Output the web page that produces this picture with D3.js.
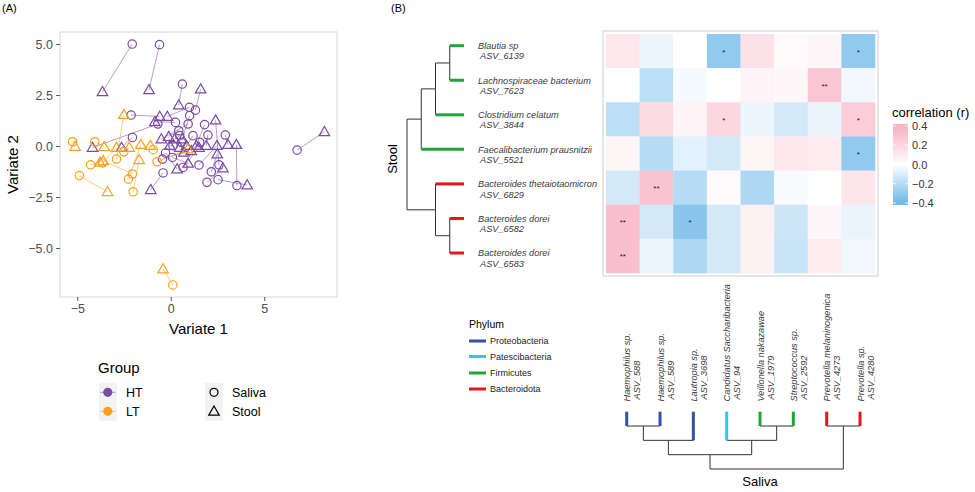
<!DOCTYPE html>
<html>
<head>
<meta charset="utf-8">
<script src="https://cdn.jsdelivr.net/npm/d3@7"></script>
<style>
  body { margin: 0; background: #fff; }
  svg { font-family: "Liberation Sans", Arial, Helvetica, sans-serif; }
</style>
</head>
<body>
<svg id="chart" width="975" height="492"></svg>
<script>
// ---- panel A data: sample scores, one saliva and one stool point per sample
const htSaliva = [[-2.06,5.0],[-0.60,4.97],[0.62,3.04],[1.32,1.76],[-2.12,1.52],[-0.69,1.08],[6.76,-0.20],[2.58,-0.92],[3.54,-1.94],[2.53,-1.65],[-0.41,-1.32],[-2.05,0.42],[1.0,1.90],[0.25,1.16],[0.93,1.08],[0.43,0.75],[1.19,0.51],[1.81,1.05],[1.99,0.54],[2.92,0.54],[0.48,0.51],[0.57,0.18],[0.12,0.02],[-0.28,-0.34],[0.09,-0.56],[0.66,-1.05],[1.51,-0.93],[1.94,-1.78],[2.17,-1.26],[1.01,1.49],[-0.44,-0.64],[1.55,0.18]];
const htStool = [[-3.65,2.66],[-1.16,2.76],[0.43,2.01],[1.60,2.79],[-0.59,1.45],[-4.18,-0.07],[8.22,0.70],[2.40,1.27],[3.51,0.07],[4.09,-1.91],[-1.07,-2.14],[-2.63,-0.07],[-0.18,1.45],[-0.85,1.19],[-0.50,0.34],[-0.11,0.46],[0.84,0.02],[1.37,0.02],[1.90,0.02],[3.06,0.07],[0.21,0.34],[0.48,-0.07],[-0.05,0.02],[0.34,-1.13],[0.93,-0.85],[1.51,-0.07],[2.47,0.02],[2.79,-1.08],[2.49,-0.39],[0.62,0.34],[0.71,-0.31],[1.10,-0.23]];
const ltSaliva = [[0.11,-6.81],[-4.89,-1.45],[-2.90,-0.64],[-2.01,-2.24],[-5.25,0.21],[-4.06,0.21],[-4.29,-0.92],[-2.05,-1.37],[-2.51,-0.28],[-0.94,-0.18],[-0.73,-0.77],[-2.26,-1.62],[-3.65,-0.83]];
const ltStool = [[-0.41,-6.03],[-3.38,-2.24],[-2.51,1.54],[-1.69,-0.67],[-5.12,-0.02],[-3.56,-0.03],[-3.79,-0.80],[-3.61,-0.72],[-2.22,-0.07],[-1.09,0.02],[0.91,-0.15],[-1.60,0.07],[-2.90,-0.07]];
const xTicks = [-5, 0, 5];
const yTicks = [-5, -2.5, 0, 2.5, 5];
const groups = ['HT', 'LT'];
const sampleTypes = ['Saliva', 'Stool'];

// ---- panel B data
const stoolTaxa = [['Blautia sp', 'ASV_6139'], ['Lachnospiraceae bacterium', 'ASV_7623'], ['Clostridium celatum', 'ASV_3844'],
  ['Faecalibacterium prausnitzii', 'ASV_5521'], ['Bacteroides thetaiotaomicron', 'ASV_6829'], ['Bacteroides dorei', 'ASV_6582'], ['Bacteroides dorei', 'ASV_6583']];
const stoolPhylum = ['Firmicutes', 'Firmicutes', 'Firmicutes', 'Firmicutes', 'Bacteroidota', 'Bacteroidota', 'Bacteroidota'];
const salivaTaxa = [['Haemophilus sp.', 'ASV_588'], ['Haemophilus sp.', 'ASV_589'], ['Lautropia sp.', 'ASV_3698'], ['Candidatus Saccharibacteria', 'ASV_94'],
  ['Veillonella nakazawae', 'ASV_1979'], ['Streptococcus sp.', 'ASV_2592'], ['Prevotella melaninogenica', 'ASV_4273'], ['Prevotella sp.', 'ASV_4280']];
const salivaPhylum = ['Proteobacteria', 'Proteobacteria', 'Proteobacteria', 'Patescibacteria', 'Firmicutes', 'Firmicutes', 'Bacteroidota', 'Bacteroidota'];
const corr = [
  [0.12, -0.05, 0.00, -0.30, 0.15, 0.03, 0.04, -0.30],
  [0.00, -0.18, -0.03, 0.00, 0.06, 0.04, 0.28, -0.04],
  [-0.18, 0.18, 0.06, 0.20, -0.05, -0.12, -0.06, 0.25],
  [0.05, -0.20, -0.08, -0.12, 0.05, 0.12, 0.10, -0.30],
  [-0.12, 0.30, -0.20, 0.03, -0.22, -0.02, 0.00, 0.13],
  [0.32, -0.12, -0.32, -0.12, 0.07, -0.14, 0.04, -0.06],
  [0.32, -0.05, -0.22, -0.12, 0.07, -0.15, 0.10, -0.04]
];
const signif = [
  ['', '', '', '*', '', '', '', '*'],
  ['', '', '', '', '', '', '**', ''],
  ['', '', '', '*', '', '', '', '*'],
  ['', '', '', '', '', '', '', '*'],
  ['', '**', '', '', '', '', '', ''],
  ['**', '', '*', '', '', '', '', ''],
  ['**', '', '', '', '', '', '', '']
];
// dendrograms: merge height per internal node, leaves are indices
const stoolTree = { h: 4, children: [
  { h: 3, children: [{ h: 2, children: [{ h: 1, children: [0, 1] }, 2] }, 3] },
  { h: 2, children: [4, { h: 1, children: [5, 6] }] }
]};
const salivaTree = { h: 4, children: [
  { h: 3, children: [{ h: 2, children: [{ h: 1, children: [0, 1] }, 2] }, { h: 2, children: [3, { h: 1, children: [4, 5] }] }] },
  { h: 1, children: [6, 7] }
]};
const phyla = ['Proteobacteria', 'Patescibacteria', 'Firmicutes', 'Bacteroidota'];
const legendTicks = [0.4, 0.2, 0, -0.2, -0.4];

const svg = d3.select('#chart');
const groupColor = d3.scaleOrdinal().domain(groups).range(['#7B4CA4', '#F7A21C']);
const phylumColor = d3.scaleOrdinal().domain(phyla).range(['#3451A3', '#35C2F2', '#1FA637', '#E8141C']);
const fmt1 = d3.format('.1f');

svg.append('text').attr('x', 2).attr('y', 12).attr('font-size', 11).text('(A)');
svg.append('text').attr('x', 391).attr('y', 12).attr('font-size', 11).text('(B)');

// ================= panel A =================
const allPts = htSaliva.concat(htStool, ltSaliva, ltStool);
function expand(ext) {
  const pad = (ext[1] - ext[0]) * 0.05;
  return [ext[0] - pad, ext[1] + pad];
}
const x = d3.scaleLinear().domain(expand(d3.extent(allPts, d => d[0]))).range([60, 337]);
const y = d3.scaleLinear().domain(expand(d3.extent(allPts, d => d[1]))).range([297, 32]);

const pA = svg.append('g');
pA.append('rect').attr('x', 60).attr('y', 32).attr('width', 277).attr('height', 265)
  .attr('fill', 'white').attr('stroke', '#d6d6d6').attr('stroke-width', 1);

const xAxis = pA.append('g').attr('transform', 'translate(0,297)')
  .call(d3.axisBottom(x).tickValues(xTicks).tickSize(4).tickPadding(3).tickFormat(d3.format('d')));
const yAxis = pA.append('g').attr('transform', 'translate(60,0)')
  .call(d3.axisLeft(y).tickValues(yTicks).tickSize(4).tickPadding(3).tickFormat(fmt1));
[xAxis, yAxis].forEach(ax => {
  ax.select('.domain').remove();
  ax.selectAll('line').attr('stroke', '#555');
  ax.selectAll('text').attr('font-size', 12.5).attr('fill', '#4d4d4d')
    .attr('font-family', '"Liberation Sans", Arial, sans-serif');
});

pA.append('text').attr('x', 198.5).attr('y', 334).attr('text-anchor', 'middle').attr('font-size', 15).text('Variate 1');
pA.append('text').attr('transform', 'translate(18,164.5) rotate(-90)').attr('text-anchor', 'middle')
  .attr('font-size', 15).text('Variate 2');

const sets = [
  { g: 'HT', sal: htSaliva, st: htStool },
  { g: 'LT', sal: ltSaliva, st: ltStool }
];
const triangle = d3.symbol().type(d3.symbolTriangle).size(48);

sets.forEach(s => {
  pA.append('g').selectAll('line').data(s.sal).join('line')
    .attr('x1', d => x(d[0])).attr('y1', d => y(d[1]))
    .attr('x2', (d, i) => x(s.st[i][0])).attr('y2', (d, i) => y(s.st[i][1]))
    .attr('stroke', groupColor(s.g)).attr('stroke-opacity', 0.55).attr('stroke-width', 1);
});
sets.forEach(s => {
  pA.append('g').selectAll('circle').data(s.sal).join('circle')
    .attr('cx', d => x(d[0])).attr('cy', d => y(d[1])).attr('r', 4.2)
    .attr('fill', 'none').attr('stroke', groupColor(s.g)).attr('stroke-width', 1.2);
  pA.append('g').selectAll('path').data(s.st).join('path')
    .attr('transform', d => `translate(${x(d[0])},${y(d[1]) + 0.8})`).attr('d', triangle)
    .attr('fill', 'none').attr('stroke', groupColor(s.g)).attr('stroke-width', 1.2);
});

// legends for panel A
const legA = svg.append('g');
legA.append('text').attr('x', 98).attr('y', 373).attr('font-size', 15).text('Group');
groups.forEach((g, i) => {
  const cy = 392.3 + i * 19;
  legA.append('rect').attr('x', 99).attr('y', cy - 9.5).attr('width', 17.7).attr('height', 19).attr('fill', '#f2f2f2');
  legA.append('line').attr('x1', 100).attr('x2', 115.7).attr('y1', cy).attr('y2', cy)
    .attr('stroke', groupColor(g)).attr('stroke-opacity', 0.55);
  legA.append('circle').attr('cx', 107.8).attr('cy', cy).attr('r', 4.6).attr('fill', groupColor(g));
  legA.append('text').attr('x', 126).attr('y', cy + 4.5).attr('font-size', 12.5).text(g);
});
sampleTypes.forEach((t, i) => {
  const cy = 392.3 + i * 19;
  legA.append('rect').attr('x', 205).attr('y', cy - 9.5).attr('width', 18).attr('height', 19).attr('fill', '#f2f2f2');
  if (i === 0) {
    legA.append('circle').attr('cx', 214).attr('cy', cy).attr('r', 4).attr('fill', 'none').attr('stroke', '#000').attr('stroke-width', 1.2);
  } else {
    legA.append('path').attr('transform', `translate(214,${cy + 0.8})`).attr('d', triangle)
      .attr('fill', 'none').attr('stroke', '#000').attr('stroke-width', 1.2);
  }
  legA.append('text').attr('x', 232).attr('y', cy + 4.5).attr('font-size', 12.5).text(t);
});

// ================= panel B =================
const pB = svg.append('g');
const colBand = d3.scaleBand().domain(d3.range(salivaTaxa.length)).range([606, 875]);
const rowBand = d3.scaleBand().domain(d3.range(stoolTaxa.length)).range([34, 273]);
const fill = d3.scaleLinear().domain([-0.4, 0, 0.4]).range(['#6CB7E9', '#ffffff', '#F7AFC2']).clamp(true);

pB.append('rect').attr('x', 603).attr('y', 31).attr('width', 275).attr('height', 245)
  .attr('fill', 'none').attr('stroke', '#dedede').attr('stroke-width', 1.5);

const cells = [];
corr.forEach((row, r) => row.forEach((v, c) => cells.push({ r, c, v, s: signif[r][c] })));
pB.append('g').selectAll('rect').data(cells).join('rect')
  .attr('x', d => colBand(d.c)).attr('y', d => rowBand(d.r))
  .attr('width', colBand.bandwidth() + 0.3).attr('height', rowBand.bandwidth() + 0.3)
  .attr('fill', d => fill(d.v));
pB.append('g').selectAll('text').data(cells.filter(d => d.s)).join('text')
  .attr('x', d => colBand(d.c) + colBand.bandwidth() / 2)
  .attr('y', d => rowBand(d.r) + rowBand.bandwidth() / 2 + 3.5)
  .attr('text-anchor', 'middle').attr('font-size', 8).attr('fill', '#222').text(d => d.s);

// colour legend
const legB = svg.append('g');
legB.append('text').attr('x', 892).attr('y', 117).attr('font-size', 13).text('correlation (r)');
const ly = d3.scaleLinear().domain([0.42, -0.42]).range([124, 205]);
const grad = svg.append('defs').append('linearGradient').attr('id', 'cgrad')
  .attr('x1', 0).attr('x2', 0).attr('y1', 0).attr('y2', 1);
d3.range(0, 1.001, 0.1).forEach(t => {
  const v = 0.42 - t * 0.84;
  grad.append('stop').attr('offset', t).attr('stop-color', fill(v));
});
legB.append('rect').attr('x', 893).attr('y', ly(0.42)).attr('width', 15).attr('height', ly(-0.42) - ly(0.42))
  .attr('fill', 'url(#cgrad)');
legendTicks.forEach(v => {
  legB.append('line').attr('x1', 893).attr('x2', 896).attr('y1', ly(v)).attr('y2', ly(v)).attr('stroke', '#fff').attr('stroke-width', 0.8);
  legB.append('line').attr('x1', 905).attr('x2', 908).attr('y1', ly(v)).attr('y2', ly(v)).attr('stroke', '#fff').attr('stroke-width', 0.8);
  legB.append('text').attr('x', 912).attr('y', ly(v) + 4).attr('font-size', 11).attr('fill', '#333').text(fmt1(v));
});

// stool dendrogram (left of heatmap)
const stoolLeafY = d3.scalePoint().domain(d3.range(stoolTaxa.length)).range([45.7, 253]);
const stoolH = d3.scaleLinear().domain([0, 4]).range([464, 407]);
const dendroLines = pB.append('g').attr('fill', 'none');

function layout(node, pos) {
  if (typeof node === 'number') return { pos: pos(node), h: 0, leaf: node };
  const kids = node.children.map(k => layout(k, pos));
  return { pos: d3.mean(kids, k => k.pos), h: node.h, kids };
}
function drawTree(node, isRow, hScale, phylum) {
  if (!node.kids) return;
  const hp = hScale(node.h);
  const pp = node.kids.map(k => k.pos);
  // connector across children
  if (isRow) dendroLines.append('line').attr('x1', hp).attr('x2', hp).attr('y1', d3.min(pp)).attr('y2', d3.max(pp)).attr('stroke', '#333');
  else dendroLines.append('line').attr('y1', hp).attr('y2', hp).attr('x1', d3.min(pp)).attr('x2', d3.max(pp)).attr('stroke', '#333');
  node.kids.forEach(k => {
    const isLeaf = k.leaf !== undefined;
    const col = isLeaf ? phylumColor(phylum[k.leaf]) : '#333';
    const w = isLeaf ? 3 : 1;
    if (isRow) dendroLines.append('line').attr('x1', hScale(k.h)).attr('x2', hp).attr('y1', k.pos).attr('y2', k.pos).attr('stroke', col).attr('stroke-width', w);
    else dendroLines.append('line').attr('y1', hScale(k.h)).attr('y2', hp).attr('x1', k.pos).attr('x2', k.pos).attr('stroke', col).attr('stroke-width', w);
    drawTree(k, isRow, hScale, phylum);
  });
}
const stoolRoot = layout(stoolTree, stoolLeafY);
drawTree(stoolRoot, true, stoolH, stoolPhylum);

stoolTaxa.forEach((t, i) => {
  const yy = stoolLeafY(i);
  const tx = pB.append('text').attr('font-size', 9.2).attr('font-style', 'italic').attr('fill', '#3a3a3a');
  tx.append('tspan').attr('x', 478).attr('y', yy + 3.4).text(t[0]);
  tx.append('tspan').attr('x', 480).attr('y', yy + 13.6).text(t[1]);
});
pB.append('text').attr('transform', 'translate(397,159) rotate(-90)').attr('text-anchor', 'middle')
  .attr('font-size', 13).text('Stool');

// saliva dendrogram (below heatmap)
const salLeafX = d3.scalePoint().domain(d3.range(salivaTaxa.length)).range([626.7, 860]);
const salH = d3.scaleLinear().domain([0, 4]).range([411.7, 469]);
const salRoot = layout(salivaTree, salLeafX);
drawTree(salRoot, false, salH, salivaPhylum);

salivaTaxa.forEach((t, i) => {
  const xx = salLeafX(i);
  const tx = pB.append('text').attr('font-size', 9.2).attr('font-style', 'italic').attr('fill', '#3a3a3a')
    .attr('transform', `translate(${xx},401.5) rotate(-90)`);
  tx.append('tspan').attr('x', 0).attr('y', 3.5).text(t[0]);
  tx.append('tspan').attr('x', 2).attr('y', 13.6).text(t[1]);
});
pB.append('text').attr('x', 760).attr('y', 486).attr('text-anchor', 'middle').attr('font-size', 13).text('Saliva');

// phylum legend
const legP = svg.append('g');
legP.append('text').attr('x', 469).attr('y', 328).attr('font-size', 10.5).text('Phylum');
const phyY = [341, 356.5, 373, 389];
phyla.forEach((p, i) => {
  legP.append('line').attr('x1', 469).attr('x2', 486).attr('y1', phyY[i]).attr('y2', phyY[i])
    .attr('stroke', phylumColor(p)).attr('stroke-width', 3);
  legP.append('text').attr('x', 490).attr('y', phyY[i] + 3.3).attr('font-size', 9).attr('fill', '#222').text(p);
});
</script>
</body>
</html>
